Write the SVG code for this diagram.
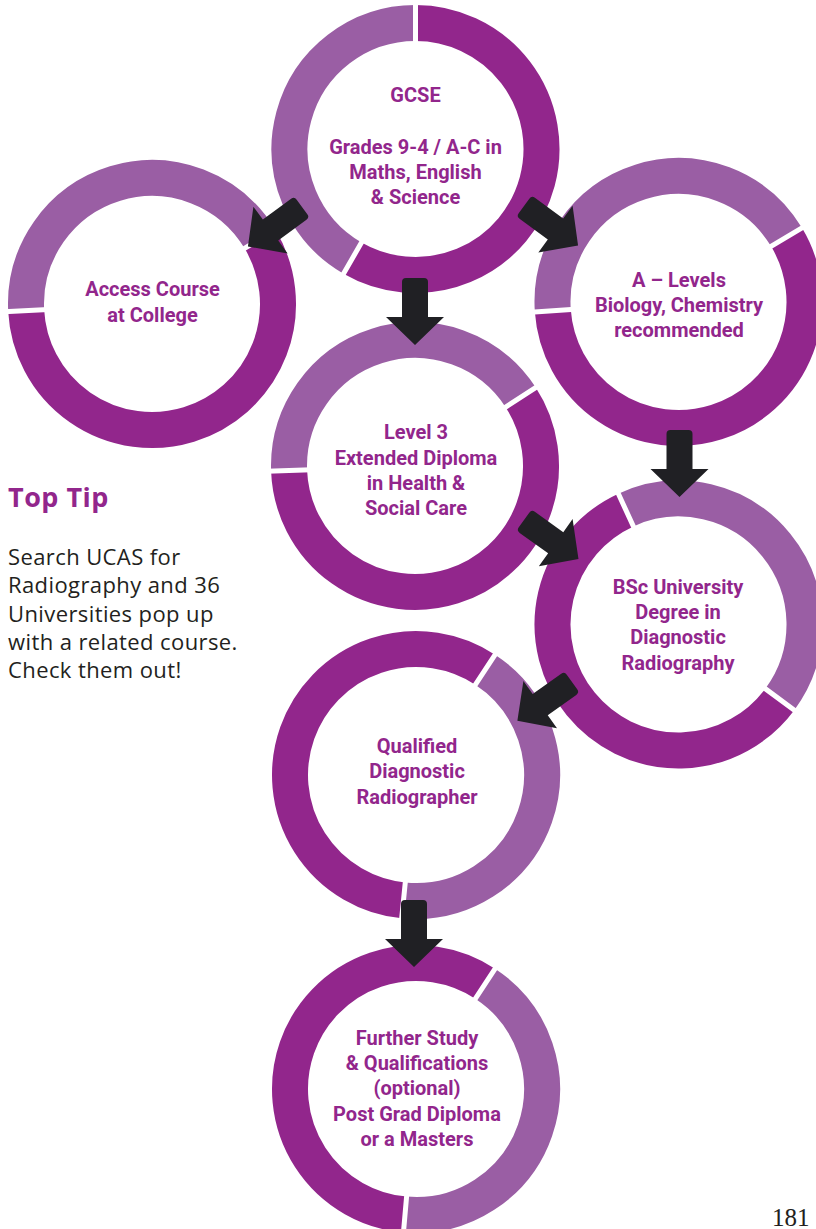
<svg xmlns="http://www.w3.org/2000/svg" xmlns:xlink="http://www.w3.org/1999/xlink" width="816" height="1229" viewBox="0 0 816 1229">
<style>
.dk{fill:none;stroke:#92268c;stroke-width:36}
.lt{fill:none;stroke:#9a5ea4;stroke-width:36}
.gap{stroke:#ffffff;stroke-width:5;fill:none}
.lbl{font-family:Roboto,"Liberation Sans",sans-serif;font-weight:700;font-size:20px;fill:#92268c;text-anchor:middle}
.arr{fill:#202024}
.tiph{font-family:"Open Sans","Liberation Sans",sans-serif;font-weight:700;font-size:27px;fill:#92268c;letter-spacing:0.5px}
.tipb{font-family:"Open Sans","Liberation Sans",sans-serif;font-weight:400;font-size:22px;fill:#231f20;letter-spacing:0.4px}
</style>
<defs>
<path id="arrow" d="M4,-13 L39,-13 L39,-29 L67,0 L39,29 L39,13 L4,13 Q0,13 0,9 L0,-9 Q0,-13 4,-13 Z"/>
</defs>
<rect width="816" height="1229" fill="#ffffff"/>

<g id="gcse">
<path class="lt" d="M352.5,258.12 A126,126 0 0 1 415.5,23"/>
<path class="dk" d="M415.5,23 A126,126 0 1 1 352.5,258.12"/>
<path class="gap" d="M415.5,45 L415.5,1 M363.5,239.07 L341.5,277.17"/>
<text class="lbl" x="415.5" y="102">GCSE</text>
<text class="lbl" x="415.5" y="154">Grades 9-4 / A-C in</text>
<text class="lbl" x="415.5" y="179">Maths, English</text>
<text class="lbl" x="415.5" y="204">&amp; Science</text>
</g>

<g id="access">
<path class="lt" d="M26.17,310.59 A126,126 0 0 1 260.0,239.1"/>
<path class="dk" d="M260.0,239.1 A126,126 0 1 1 26.17,310.59"/>
<path class="gap" d="M48.14,309.44 L4.2,311.75 M241.15,250.44 L278.86,227.77"/>
<text class="lbl" x="152.5" y="296">Access Course</text>
<text class="lbl" x="152.5" y="322">at College</text>
</g>

<g id="alevels">
<path class="lt" d="M552.81,310.79 A126,126 0 0 1 786.5,237.1"/>
<path class="dk" d="M786.5,237.1 A126,126 0 1 1 552.81,310.79"/>
<path class="gap" d="M574.75,309.26 L530.86,312.32 M767.65,248.44 L805.36,225.77"/>
<text class="lbl" x="679" y="287">A – Levels</text>
<text class="lbl" x="679" y="312">Biology, Chemistry</text>
<text class="lbl" x="679" y="337">recommended</text>
</g>

<g id="level3">
<path class="lt" d="M289.08,470.4 A126,126 0 0 1 520.67,397.38"/>
<path class="dk" d="M520.67,397.38 A126,126 0 1 1 289.08,470.4"/>
<path class="gap" d="M311.06,469.63 L267.09,471.17 M502.22,409.36 L539.12,385.39"/>
<text class="lbl" x="416" y="439">Level 3</text>
<text class="lbl" x="416" y="465">Extended Diploma</text>
<text class="lbl" x="416" y="490">in Health &amp;</text>
<text class="lbl" x="416" y="515">Social Care</text>
</g>

<g id="bsc">
<path class="lt" d="M625.85,510.03 A126,126 0 0 1 779.79,699.45"/>
<path class="dk" d="M779.79,699.45 A126,126 0 1 1 625.85,510.03"/>
<path class="gap" d="M635.04,530.01 L616.66,490.04 M762.1,686.36 L797.47,712.53"/>
<text class="lbl" x="678" y="594">BSc University</text>
<text class="lbl" x="678" y="619">Degree in</text>
<text class="lbl" x="678" y="644">Diagnostic</text>
<text class="lbl" x="678" y="670">Radiography</text>
</g>

<g id="qualified">
<path class="dk" d="M403.49,900.38 A126,126 0 1 1 485.18,669.69"/>
<path class="lt" d="M485.18,669.69 A126,126 0 0 1 403.49,900.38"/>
<path class="gap" d="M473.1,688.08 L497.25,651.3 M405.67,878.49 L401.3,922.27"/>
<text class="lbl" x="417" y="753">Qualified</text>
<text class="lbl" x="417" y="778">Diagnostic</text>
<text class="lbl" x="417" y="804">Radiographer</text>
</g>

<g id="further">
<path class="dk" d="M405.02,1214.52 A126,126 0 1 1 485.18,983.69"/>
<path class="lt" d="M485.18,983.69 A126,126 0 0 1 405.02,1214.52"/>
<path class="gap" d="M473.1,1002.08 L497.25,965.3 M406.94,1192.6 L403.1,1236.44"/>
<text class="lbl" x="417" y="1045">Further Study</text>
<text class="lbl" x="417" y="1070">&amp; Qualifications</text>
<text class="lbl" x="417" y="1095">(optional)</text>
<text class="lbl" x="417" y="1121">Post Grad Diploma</text>
<text class="lbl" x="417" y="1146">or a Masters</text>
</g>

<g id="connectors">
<use xlink:href="#arrow" class="arr" transform="translate(302,207) rotate(143.8)"/>
<use xlink:href="#arrow" class="arr" transform="translate(524,206) rotate(36.2)"/>
<use xlink:href="#arrow" class="arr" transform="translate(415,278) rotate(90)"/>
<use xlink:href="#arrow" class="arr" transform="translate(679.5,430) rotate(90)"/>
<use xlink:href="#arrow" class="arr" transform="translate(524,520) rotate(35.6)"/>
<use xlink:href="#arrow" class="arr" transform="translate(572,682) rotate(144.6)"/>
<use xlink:href="#arrow" class="arr" transform="translate(414,900) rotate(90)"/>
</g>

<g id="toptip">
<text class="tiph" x="8" y="507">Top Tip</text>
<text class="tipb" x="8" y="565">Search UCAS for</text>
<text class="tipb" x="8" y="593">Radiography and 36</text>
<text class="tipb" x="8" y="622">Universities pop up</text>
<text class="tipb" x="8" y="650">with a related course.</text>
<text class="tipb" x="8" y="678">Check them out!</text>
</g>

<text x="772" y="1226" font-family="'Liberation Serif',serif" font-size="25" fill="#231f20">181</text>
</svg>
